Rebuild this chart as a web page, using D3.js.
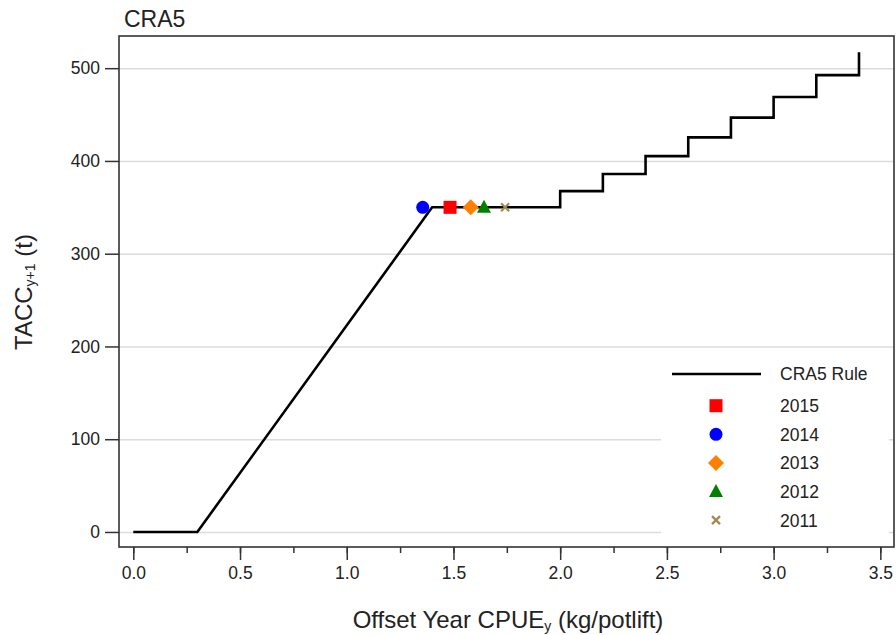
<!DOCTYPE html>
<html>
<head>
<meta charset="utf-8">
<script src="https://cdn.jsdelivr.net/npm/d3@7"></script>
<style>
  body { margin: 0; background: #fff; }
  svg text { font-family: "Liberation Sans", Arial, sans-serif; fill: #222; }
  .axis path { display: none; }
  .axis line { stroke: #333; stroke-width: 1.5; }
  .grid line { stroke: #dcdcdc; stroke-width: 1.5; }
  .grid path { display: none; }
</style>
</head>
<body>
<div class="chart"></div>
<script>
// harvest control rule (vertices of the line)
var ruleX = [0, 0.3, 1.4, 2.0, 2.0, 2.2, 2.2, 2.4, 2.4, 2.6, 2.6, 2.8, 2.8, 3.0, 3.0, 3.2, 3.2, 3.4, 3.4];
var ruleY = [0, 0, 350, 350, 367.5, 367.5, 385.9, 385.9, 405.2, 405.2, 425.4, 425.4, 446.7, 446.7, 469.0, 469.0, 492.5, 492.5, 517.1];

// observed years
var years = ["2015", "2014", "2013", "2012", "2011"];
var yearCpue = [1.484, 1.356, 1.581, 1.643, 1.742];
var yearTacc = [350, 350, 350, 350, 350];
var yearColors = ["#ff0000", "#0000ff", "#ff8000", "#008000", "#a08c50"];
var yearShapes = ["square", "circle", "diamond", "triangle", "cross"];

var xTicks = [0, 0.5, 1.0, 1.5, 2.0, 2.5, 3.0, 3.5];
var xMinorTicks = [0, 0.25, 0.5, 0.75, 1.0, 1.25, 1.5, 1.75, 2.0, 2.25, 2.5, 2.75, 3.0, 3.25, 3.5];
var yTicks = [0, 100, 200, 300, 400, 500];

var width = 896, height = 635;
var margins = { top: 36, right: 2, bottom: 88, left: 119 };
var chartWidth = width - margins.left - margins.right;
var chartHeight = height - margins.top - margins.bottom;

var svg = d3.select("div.chart").append("svg")
  .attr("width", width)
  .attr("height", height);

var chartElement = svg.append("g")
  .attr("transform", `translate(${margins.left},${margins.top})`);

var xScale = d3.scaleLinear().domain([-0.067, 3.564]).range([0, chartWidth]);
var yScale = d3.scaleLinear().domain([-16.2, 534.7]).range([chartHeight, 0]);

// grid
chartElement.append("g")
  .attr("class", "grid")
  .call(d3.axisLeft(yScale).tickValues(yTicks).tickSize(-chartWidth).tickFormat(""));

// rule line
var ruleData = ruleX.map((d, i) => ({ x: d, y: ruleY[i] }));
var line = d3.line().x(d => xScale(d.x)).y(d => yScale(d.y));

chartElement.append("path")
  .datum(ruleData)
  .attr("d", line)
  .attr("fill", "none")
  .attr("stroke", "#000")
  .attr("stroke-width", 2.6);

// symbol helper
function drawSymbol(g, shape, color, cx, cy) {
  if (shape === "square") {
    g.append("rect").attr("x", cx - 6.5).attr("y", cy - 6.5).attr("width", 13).attr("height", 13).attr("fill", color);
  } else if (shape === "circle") {
    g.append("circle").attr("cx", cx).attr("cy", cy).attr("r", 6.5).attr("fill", color);
  } else if (shape === "diamond") {
    g.append("path").attr("d", `M${cx},${cy - 8}L${cx + 8},${cy}L${cx},${cy + 8}L${cx - 8},${cy}Z`).attr("fill", color);
  } else if (shape === "triangle") {
    g.append("path").attr("d", `M${cx},${cy - 7.5}L${cx + 7},${cy + 5.5}L${cx - 7},${cy + 5.5}Z`).attr("fill", color);
  } else if (shape === "cross") {
    g.append("path").attr("d", `M${cx - 4},${cy - 4}L${cx + 4},${cy + 4}M${cx - 4},${cy + 4}L${cx + 4},${cy - 4}`)
      .attr("stroke", color).attr("stroke-width", 2.2).attr("fill", "none");
  }
}

var points = chartElement.append("g").attr("class", "points");
years.forEach(function(d, i) {
  drawSymbol(points, yearShapes[i], yearColors[i], xScale(yearCpue[i]), yScale(yearTacc[i]));
});

// legend
var legend = chartElement.append("g").attr("class", "legend");
legend.append("rect")
  .attr("x", 661 - margins.left).attr("y", 355 - margins.top)
  .attr("width", 228).attr("height", chartHeight - (355 - margins.top))
  .attr("fill", "#fff");

legend.append("line")
  .attr("x1", 672 - margins.left).attr("x2", 761 - margins.left)
  .attr("y1", 374 - margins.top).attr("y2", 374 - margins.top)
  .attr("stroke", "#000").attr("stroke-width", 2.6);
legend.append("text")
  .attr("x", 780 - margins.left).attr("y", 380 - margins.top)
  .style("font-size", "17.5px")
  .text("CRA5 Rule");

years.forEach(function(d, i) {
  var cy = 405.7 - margins.top + i * 28.6;
  drawSymbol(legend, yearShapes[i], yearColors[i], 716 - margins.left, cy);
  legend.append("text")
    .attr("x", 780 - margins.left).attr("y", cy + 6.5)
    .style("font-size", "17.5px")
    .text(d);
});

// axes
chartElement.append("g")
  .attr("class", "x axis")
  .attr("transform", `translate(0,${chartHeight})`)
  .call(d3.axisBottom(xScale).tickValues(xMinorTicks).tickSize(6).tickFormat(""));

var xAxisG = chartElement.append("g")
  .attr("class", "x axis")
  .attr("transform", `translate(0,${chartHeight})`)
  .call(d3.axisBottom(xScale).tickValues(xTicks).tickSize(13).tickPadding(7).tickFormat(d3.format(".1f")));
xAxisG.selectAll("text").style("font-size", "17.5px").attr("fill", "#222");

var yAxisG = chartElement.append("g")
  .attr("class", "y axis")
  .call(d3.axisLeft(yScale).tickValues(yTicks).tickSize(14).tickPadding(5));
yAxisG.selectAll("text").style("font-size", "17.5px").attr("fill", "#222");

// frame
chartElement.append("rect")
  .attr("x", 0).attr("y", 0)
  .attr("width", chartWidth).attr("height", chartHeight)
  .attr("fill", "none")
  .attr("stroke", "#333")
  .attr("stroke-width", 1.6);

// title
svg.append("text")
  .attr("x", 124).attr("y", 27)
  .style("font-size", "23px")
  .text("CRA5");

// axis titles
var xTitle = svg.append("text")
  .attr("x", 508).attr("y", 628)
  .attr("text-anchor", "middle")
  .style("font-size", "24px");
xTitle.append("tspan").text("Offset Year CPUE");
xTitle.append("tspan").attr("dy", 3).style("font-size", "14px").text("y");
xTitle.append("tspan").attr("dy", -3).text(" (kg/potlift)");

var yTitle = svg.append("text")
  .attr("transform", `translate(32,292) rotate(-90)`)
  .attr("text-anchor", "middle")
  .style("font-size", "24px");
yTitle.append("tspan").text("TACC");
yTitle.append("tspan").attr("dy", 3).style("font-size", "14px").text("y+1");
yTitle.append("tspan").attr("dy", -3).text(" (t)");
</script>
</body>
</html>
